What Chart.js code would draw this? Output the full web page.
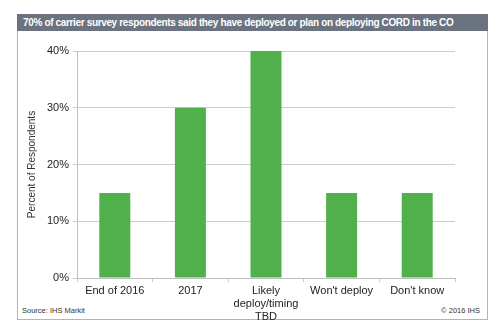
<!DOCTYPE html>
<html>
<head>
<meta charset="utf-8">
<script src="https://cdn.jsdelivr.net/npm/chart.js@4/dist/chart.umd.min.js"></script>
<style>
  html, body { margin: 0; padding: 0; background: #fff; }
  body { width: 500px; height: 333px; position: relative; overflow: hidden; font-family: "Liberation Sans", Arial, sans-serif; }
  #frame { position: absolute; left: 17px; top: 14px; width: 469px; height: 304px; border: 1px solid #b4b4b4; }
  #title { position: absolute; left: 17px; top: 14px; width: 465px; height: 17px; background: #6b7380; color: #fff; font-weight: bold; font-size: 10px; letter-spacing: -0.35px; line-height: 17px; padding-left: 6px; white-space: nowrap; overflow: hidden; }
  #source { position: absolute; left: 22px; top: 306px; font-size: 7.5px; color: #333; }
  #copy { position: absolute; right: 20px; top: 306px; font-size: 7.5px; color: #333; }
  canvas { position: absolute; left: 0; top: 0; }
</style>
</head>
<body>
<div id="frame"></div>
<div id="title">70% of carrier survey respondents said they have deployed or plan on deploying CORD in the CO</div>
<div id="source">Source: IHS Markit</div>
<div id="copy">© 2016 IHS</div>
<canvas id="c" width="500" height="333"></canvas>
<script>
const categories = ["End of 2016", "2017", ["Likely", "deploy/timing", "TBD"], "Won't deploy", "Don't know"];
const percentValues = [15, 30, 40, 15, 15];
const yTickStep = 10;
const yMax = 40;

new Chart(document.getElementById('c'), {
  type: 'bar',
  data: {
    labels: categories,
    datasets: [{
      data: percentValues,
      backgroundColor: '#50b04c',
      borderWidth: 0,
      barPercentage: 0.41,
      categoryPercentage: 1
    }]
  },
  options: {
    responsive: false,
    animation: false,
    layout: { padding: { left: 26, top: 51, right: 45, bottom: 0 } },
    plugins: { legend: { display: false }, tooltip: { enabled: false }, title: { display: false } },
    scales: {
      x: {
        afterFit: s => { s.height = 55; },
        grid: { offset: true, drawOnChartArea: false, drawTicks: true, tickLength: 4, color: '#c8c8c8' },
        border: { color: '#c0c0c0' },
        ticks: { color: '#222', font: { family: 'Liberation Sans', size: 11 }, maxRotation: 0, autoSkip: false, padding: 2 }
      },
      y: {
        min: 0, max: yMax,
        afterFit: s => { s.width = 51; },
        grid: { color: '#cccccc', tickLength: 4 },
        border: { color: '#c0c0c0' },
        ticks: { stepSize: yTickStep, color: '#222', font: { family: 'Liberation Sans', size: 11 }, padding: 4, callback: v => v + '%' },
        title: { display: true, text: 'Percent of Respondents', color: '#333', font: { family: 'Liberation Sans', size: 10 }, padding: { top: 0, bottom: 0 } }
      }
    }
  }
});
</script>
</body>
</html>
